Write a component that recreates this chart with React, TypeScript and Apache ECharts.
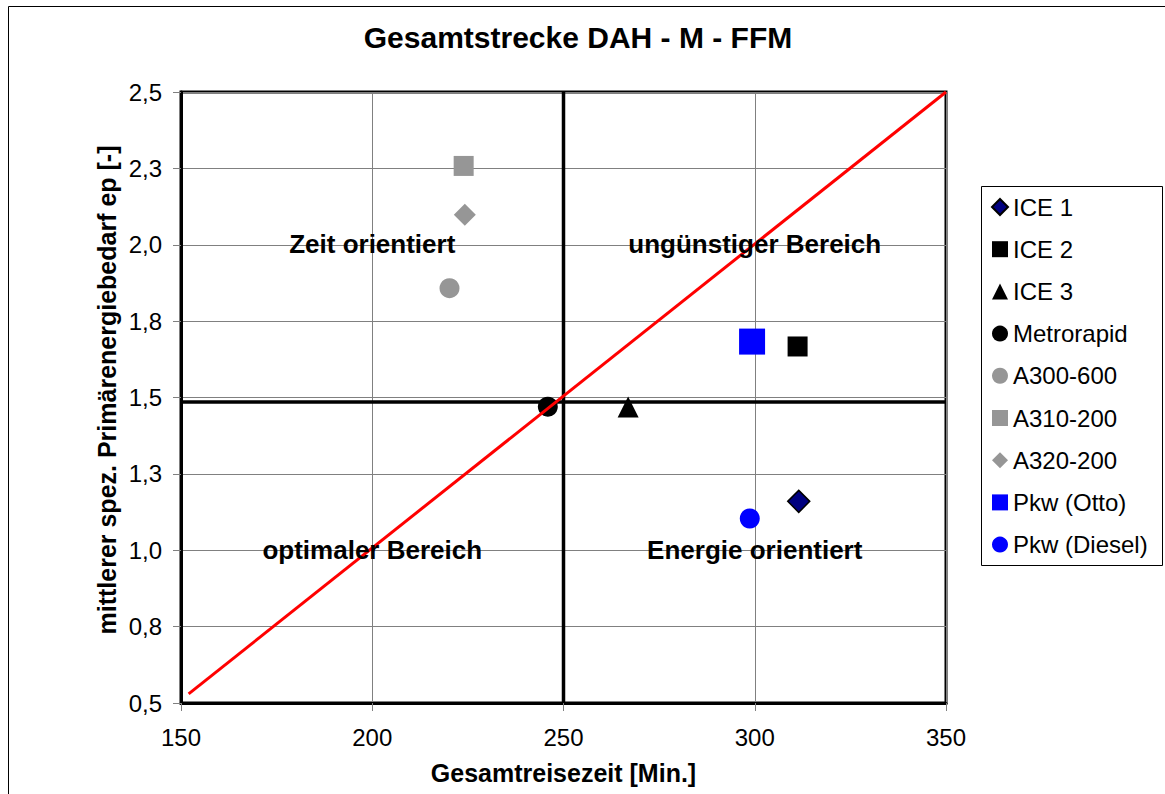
import React, { useEffect, useRef } from "react";
import * as echarts from "echarts";

// ---- data ----
const seriesNames = ["ICE 1", "ICE 2", "ICE 3", "Metrorapid", "A300-600", "A310-200", "A320-200", "Pkw (Otto)", "Pkw (Diesel)"];
const travelTime = [311.5, 311.2, 266.9, 245.9, 220.2, 223.9, 224.2, 299.3, 298.7];
const energyDemand = [1.16, 1.667, 1.469, 1.47, 1.858, 2.258, 2.098, 1.683, 1.104];

const yTickLabels = ["0,5", "0,8", "1,0", "1,3", "1,5", "1,8", "2,0", "2,3", "2,5"];

const redLineX = [152, 350];
const redLineY = [0.53, 2.5];

const dividerTime = 250;
const dividerEnergy = 1.485;

const regionNames = ["Zeit orientiert", "ungünstiger Bereich", "optimaler Bereich", "Energie orientiert"];
const regionX = [200, 300, 200, 300];
const regionY = [2.0, 2.0, 1.0, 1.0];

// ---- styles ----
const symbols = ["diamond", "rect", "triangle", "circle", "circle", "rect", "diamond", "rect", "circle"];
const symbolSizes = [22, 20, 21, 20, 20, 20, 22, 26, 20];
const colors = ["#000080", "#000000", "#000000", "#000000", "#969696", "#969696", "#969696", "#0000FF", "#0000FF"];

const FONT = "'Liberation Sans', Arial, Helvetica, sans-serif";

export default function App() {
  const ref = useRef<HTMLDivElement>(null);

  useEffect(() => {
    if (!ref.current) return;
    const chart = echarts.init(ref.current, undefined, { renderer: "svg" });

    const scatterSeries = seriesNames.map((name, i) => ({
      name,
      type: "scatter",
      symbol: symbols[i],
      symbolSize: symbolSizes[i],
      z: 3,
      itemStyle: {
        color: colors[i],
        opacity: 1,
        borderColor: i === 0 ? "#000000" : colors[i],
        borderWidth: i === 0 ? 1.5 : 0,
      },
      data: [[travelTime[i], energyDemand[i]]],
    }));

    const option: any = {
      animation: false,
      backgroundColor: "#ffffff",
      textStyle: { fontFamily: FONT },
      title: {
        text: "Gesamtstrecke DAH - M - FFM",
        left: 573,
        textAlign: "center",
        top: 17,
        textStyle: { fontFamily: FONT, fontSize: 30, fontWeight: "bold", color: "#000" },
      },
      grid: {
        left: 181,
        width: 765,
        top: 92,
        height: 611,
        show: true,
        borderColor: "#000",
        borderWidth: 3,
        backgroundColor: "#fff",
      },
      legend: {
        orient: "vertical",
        left: 991,
        top: 195,
        itemWidth: 16,
        itemHeight: 16,
        itemGap: 18.2,
        padding: 0,
        data: seriesNames,
        textStyle: { fontFamily: FONT, fontSize: 24, color: "#000", lineHeight: 24 },
      },
      xAxis: {
        type: "value",
        min: 150,
        max: 350,
        interval: 50,
        name: "Gesamtreisezeit [Min.]",
        nameLocation: "middle",
        nameGap: 57,
        nameTextStyle: { fontFamily: FONT, fontSize: 25, fontWeight: "bold", color: "#000" },
        axisLine: { show: true, lineStyle: { color: "#000", width: 3 } },
        axisTick: { show: true, inside: false, length: 8, lineStyle: { color: "#808080", width: 1 } },
        axisLabel: { margin: 22, fontFamily: FONT, fontSize: 24, color: "#000" },
        splitLine: { show: true, lineStyle: { color: "#808080", width: 1 } },
      },
      yAxis: {
        type: "value",
        min: 0.5,
        max: 2.5,
        interval: 0.25,
        axisLine: { show: true, lineStyle: { color: "#000", width: 3 } },
        axisTick: { show: true, inside: false, length: 8, lineStyle: { color: "#808080", width: 1 } },
        axisLabel: {
          margin: 19,
          fontFamily: FONT,
          fontSize: 24,
          color: "#000",
          formatter: (v: number) => yTickLabels[Math.round((v - 0.5) / 0.25)] ?? "",
        },
        splitLine: { show: true, lineStyle: { color: "#808080", width: 1 } },
      },
      graphic: [
        {
          type: "rect",
          shape: { x: 8.5, y: 6.5, width: 1200, height: 900 },
          style: { fill: "none", stroke: "#000", lineWidth: 1 },
          silent: true,
          z: -10,
        },
        {
          type: "rect",
          shape: { x: 981.5, y: 186.5, width: 181, height: 379 },
          style: { fill: "#fff", stroke: "#000", lineWidth: 1 },
          silent: true,
          z: -1,
        },
        {
          type: "text",
          x: 107,
          y: 390,
          rotation: Math.PI / 2,
          style: {
            text: "mittlerer spez. Primärenergiebedarf ep [-]",
            fontFamily: FONT,
            fontSize: 25,
            fontWeight: "bold",
            fill: "#000",
            align: "center",
            verticalAlign: "middle",
          },
        },
      ],
      series: [
        {
          name: "_hdiv",
          type: "line",
          symbol: "none",
          silent: true,
          z: 2,
          lineStyle: { color: "#000", width: 3.5 },
          data: [[150, dividerEnergy], [350, dividerEnergy]],
        },
        {
          name: "_vdiv",
          type: "line",
          symbol: "none",
          silent: true,
          z: 2,
          lineStyle: { color: "#000", width: 3.5 },
          data: [[dividerTime, 0.5], [dividerTime, 2.5]],
        },
        {
          name: "_regions",
          type: "scatter",
          symbol: "circle",
          symbolSize: 1,
          silent: true,
          z: 5,
          itemStyle: { color: "#ffffff", opacity: 0 },
          label: {
            show: true,
            position: "top",
            distance: -13,
            formatter: "{b}",
            fontFamily: FONT,
            fontSize: 26,
            fontWeight: "bold",
            color: "#000000",
            opacity: 1,
            textBorderWidth: 0,
          },
          data: regionNames.map((n, i) => ({ name: n, value: [regionX[i], regionY[i]] })),
        },
        ...scatterSeries,
        {
          name: "_diag",
          type: "line",
          symbol: "none",
          silent: true,
          z: 4,
          lineStyle: { color: "#FF0000", width: 3 },
          data: redLineX.map((x, i) => [x, redLineY[i]]),
        },
      ],
    };

    chart.setOption(option);
    return () => chart.dispose();
  }, []);

  return (
    <div
      ref={ref}
      style={{ position: "absolute", left: 0, top: 0, width: 1165, height: 794, overflow: "hidden" }}
    />
  );
}
